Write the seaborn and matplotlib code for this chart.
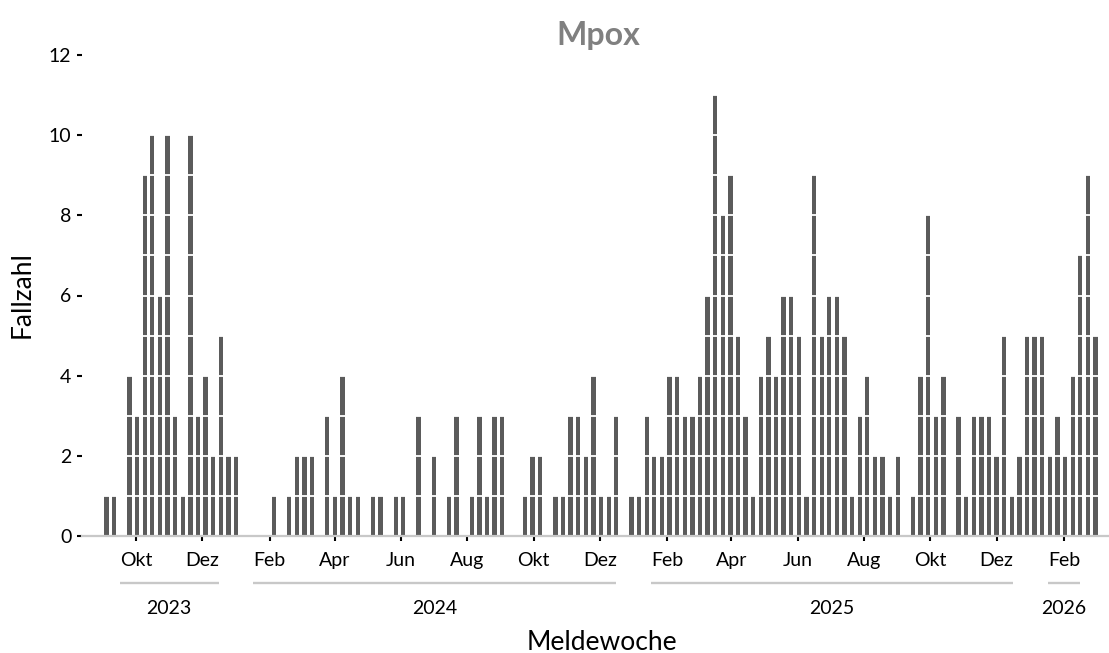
import numpy as np
import pandas as pd
import seaborn as sns
import matplotlib.pyplot as plt
import matplotlib.dates as mdates
import matplotlib.transforms as mtransforms

# weekly case counts, first week starting 2023-09-04
first_week = "2023-09-04"
cases = [1, 1, 0, 4, 3, 9, 10, 6, 10, 3, 1, 10, 3, 4, 2, 5, 2, 2, 0, 0,
         0, 0, 1, 0, 1, 2, 2, 2, 0, 3, 1, 4, 1, 1, 0, 1, 1, 0, 1, 1,
         0, 3, 0, 2, 0, 1, 3, 0, 1, 3, 1, 3, 3, 0, 0, 1, 2, 2, 0, 1,
         1, 3, 3, 2, 4, 1, 1, 3, 0, 1, 1, 3, 2, 2, 4, 4, 3, 3, 4, 6,
         11, 8, 9, 5, 3, 1, 4, 5, 4, 6, 6, 5, 1, 9, 5, 6, 6, 5, 1, 3,
         4, 2, 2, 1, 2, 0, 1, 4, 8, 3, 4, 0, 3, 1, 3, 3, 3, 2, 5, 1,
         2, 5, 5, 5, 2, 3, 2, 4, 7, 9, 5]

month_ticks = ["2023-10-01", "2023-12-01", "2024-02-01", "2024-04-01", "2024-06-01",
               "2024-08-01", "2024-10-01", "2024-12-01", "2025-02-01", "2025-04-01",
               "2025-06-01", "2025-08-01", "2025-10-01", "2025-12-01", "2026-02-01"]
month_labels = ["Okt", "Dez", "Feb", "Apr", "Jun", "Aug", "Okt", "Dez",
                "Feb", "Apr", "Jun", "Aug", "Okt", "Dez", "Feb"]
years = ["2023", "2024", "2025", "2026"]
year_start = ["2023-10-01", "2024-02-01", "2025-02-01", "2026-02-01"]
year_end = ["2023-12-01", "2024-12-01", "2025-12-01", "2026-02-01"]

sns.set_style("white")
plt.rcParams['font.family'] = ['Lato', 'DejaVu Sans']
plt.rcParams['text.color'] = 'black'

weeks = pd.date_range(first_week, periods=len(cases), freq="7D")
df = pd.DataFrame({"woche": mdates.date2num(weeks), "faelle": cases})

fig = plt.figure(figsize=(11.09, 6.53), dpi=100)
ax = fig.add_axes([82 / 1109, 117 / 653, (1108 - 82) / 1109, (536 - 55) / 653])

sns.barplot(data=df, x="woche", y="faelle", native_scale=True, width=0.57,
            color="#5b5b5b", saturation=1, errorbar=None, linewidth=0, ax=ax)

# white cuts so every case is its own block
for lvl in range(1, 12):
    ax.axhline(lvl, color="white", lw=1.3, zorder=3)

ref = mdates.date2num(pd.Timestamp("2023-10-01"))
ax.set_xlim(ref - 49.7, ref + 894.5)
ax.set_ylim(0, 12)

ax.set_yticks(range(0, 13, 2))
ax.set_xticks(mdates.date2num(pd.to_datetime(month_ticks)), month_labels)
ax.set_xlabel("")
ax.set_ylabel("")
ax.tick_params(axis="both", bottom=True, left=True, direction="out", labelsize=14,
               length=3.6, width=1.5, color="black", labelcolor="black")
ax.tick_params(axis="x", pad=8)
ax.tick_params(axis="y", pad=4)

sns.despine(ax=ax, left=True)
ax.spines["bottom"].set_color("#c8c8c8")
ax.spines["bottom"].set_linewidth(1.6)

# year brackets under the month labels
trans = mtransforms.blended_transform_factory(ax.transData, fig.transFigure)
for yr, s, e in zip(years, year_start, year_end):
    x0 = mdates.date2num(pd.Timestamp(s)) - 15
    x1 = mdates.date2num(pd.Timestamp(e)) + 15
    ax.plot([x0, x1], [(653 - 583) / 653] * 2, transform=trans, color="#c8c8c8",
            lw=1.7, solid_capstyle="butt", clip_on=False)
    ax.text((x0 + x1) / 2, (653 - 608) / 653, yr, transform=trans, ha="center",
            va="center", fontsize=14, color="black", clip_on=False)

fig.text(598 / 1109, (653 - 35) / 653, "Mpox", ha="center", va="center",
         fontsize=23, fontweight="bold", color="#808080")
fig.text(602 / 1109, (653 - 642) / 653, "Meldewoche", ha="center", va="center",
         fontsize=19, color="black")
fig.text(22.5 / 1109, (653 - 295) / 653, "Fallzahl", ha="center", va="center",
         rotation=90, fontsize=19, color="black")

fig.savefig("out.png", dpi=100)
